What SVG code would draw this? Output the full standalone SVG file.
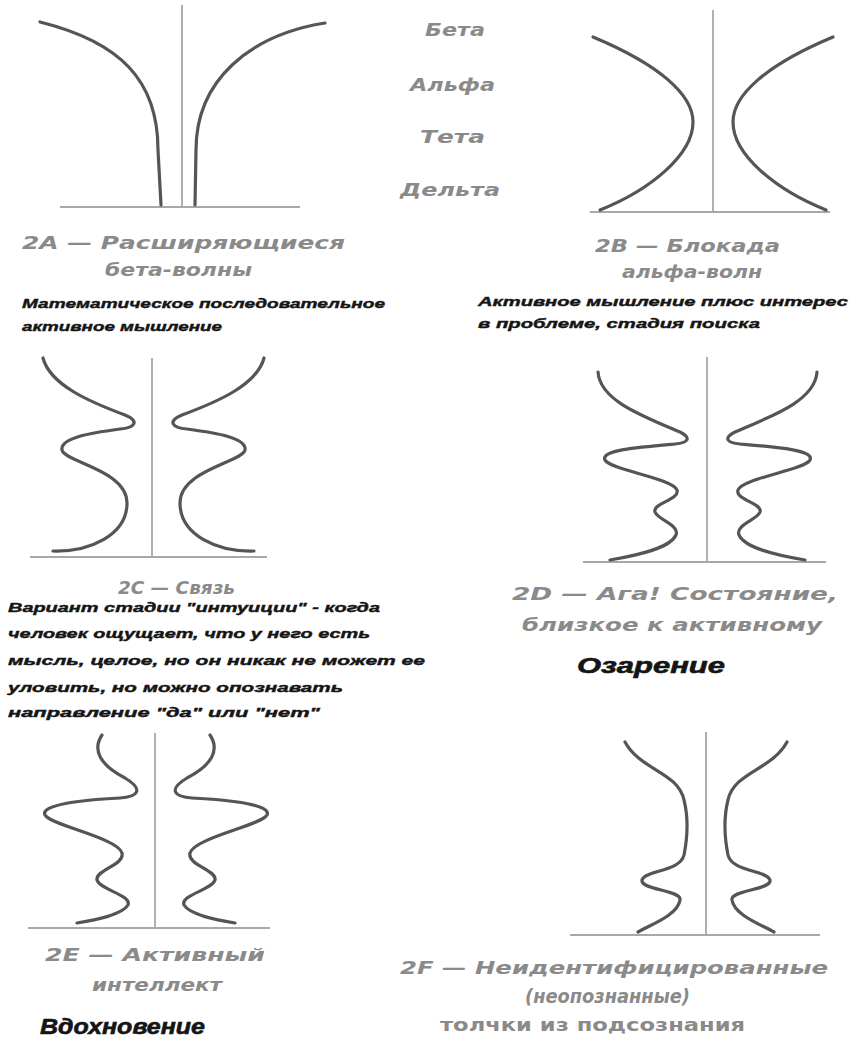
<svg xmlns="http://www.w3.org/2000/svg" xmlns:xlink="http://www.w3.org/1999/xlink" width="852" height="1043" viewBox="0 0 852 1043">
<style>
.ax{stroke:#a8a8a8;stroke-width:1.8;fill:none}
.cv{stroke:#555;stroke-width:3.2;fill:none;stroke-linecap:round;stroke-linejoin:round}
.lb{font-family:"DejaVu Sans",sans-serif;font-style:italic;font-weight:bold;font-size:17px;fill:#8a8a8a}
.lb2{font-size:20px}
.up{font-family:"DejaVu Sans",sans-serif;font-weight:bold;font-size:17px;fill:#8a8a8a}
.bd{font-family:"Liberation Sans",sans-serif;font-style:italic;font-weight:bold;font-size:13px;fill:#151515;stroke:#151515;stroke-width:0.4}
.hd{font-family:"Liberation Sans",sans-serif;font-style:italic;font-weight:bold;font-size:22px;fill:#151515;stroke:#151515;stroke-width:0.6}
</style>
<defs>
<path id="c2B" d="M593,37 C660,65 693,95 693,122 C693,155 650,190 600,210"/>
<path id="c2C" d="M43,358 C50,385 90,402 125,415 C140,421 135,428 120,429 C90,433 60,438 62,450 C64,462 127,470 127,503 C127,535 90,552 53,551"/>
<path id="c2D" d="M598,372 C600,400 640,415 680,432 C692,438 688,443 675,444 C640,447 600,450 605,460 C610,470 672,478 677,490 C680,500 652,503 655,512 C658,520 680,525 676,535 C670,548 640,555 610,560"/>
<path id="c2E" d="M102,735 C92,750 100,765 125,778 C145,790 137,797 120,798 C80,800 40,805 45,815 C50,825 118,838 122,853 C125,865 95,870 97,880 C100,890 132,895 128,905 C122,915 95,920 77,923"/>
<path id="c2F" d="M625,742 C640,770 678,772 684,800 C689,820 687,840 684,855 C680,872 645,870 642,880 C640,890 682,890 680,900 C678,915 650,925 638,932"/>
</defs>

<g id="scale">
<text class="lb" x="425" y="36" textLength="60" lengthAdjust="spacingAndGlyphs">Бета</text>
<text class="lb" x="410" y="91" textLength="85" lengthAdjust="spacingAndGlyphs">Альфа</text>
<text class="lb" x="420" y="143" textLength="65" lengthAdjust="spacingAndGlyphs">Тета</text>
<text class="lb" x="400" y="196" textLength="100" lengthAdjust="spacingAndGlyphs">Дельта</text>
</g>

<g id="fig2A">
<line class="ax" x1="182" y1="5" x2="182" y2="207"/>
<line class="ax" x1="60" y1="207" x2="300" y2="207"/>
<path class="cv" d="M40,22 C120,42 158,80 158,150 L161,205"/>
<path class="cv" d="M325,23 C250,35 196,80 196,150 L195,205"/>
<text class="lb" x="22" y="249" textLength="323" lengthAdjust="spacingAndGlyphs">2A — Расширяющиеся</text>
<text class="lb" x="105" y="276" textLength="147" lengthAdjust="spacingAndGlyphs">бета-волны</text>
<text class="bd" x="22" y="308" textLength="363" lengthAdjust="spacingAndGlyphs">Математическое последовательное</text>
<text class="bd" x="22" y="331" textLength="200" lengthAdjust="spacingAndGlyphs">активное мышление</text>
</g>

<g id="fig2B">
<line class="ax" x1="713" y1="10" x2="713" y2="212"/>
<line class="ax" x1="590" y1="212" x2="830" y2="212"/>
<use xlink:href="#c2B" class="cv"/>
<use xlink:href="#c2B" class="cv" transform="translate(1426,0) scale(-1,1)"/>
<text class="lb" x="595" y="252" textLength="185" lengthAdjust="spacingAndGlyphs">2B — Блокада</text>
<text class="lb" x="622" y="278" textLength="140" lengthAdjust="spacingAndGlyphs">альфа-волн</text>
<text class="bd" x="478" y="306" textLength="370" lengthAdjust="spacingAndGlyphs">Активное мышление плюс интерес</text>
<text class="bd" x="478" y="328" textLength="282" lengthAdjust="spacingAndGlyphs">в проблеме, стадия поиска</text>
</g>

<g id="fig2C">
<line class="ax" x1="152" y1="358" x2="152" y2="557"/>
<line class="ax" x1="30" y1="557" x2="267" y2="557"/>
<use xlink:href="#c2C" class="cv"/>
<use xlink:href="#c2C" class="cv" transform="translate(307,0) scale(-1,1)"/>
<text class="lb" x="118" y="594" textLength="117" lengthAdjust="spacingAndGlyphs">2C — Связь</text>
<text class="bd" x="8" y="612" textLength="372" lengthAdjust="spacingAndGlyphs">Вариант стадии "интуиции" - когда</text>
<text class="bd" x="8" y="638" textLength="362" lengthAdjust="spacingAndGlyphs">человек ощущает, что у него есть</text>
<text class="bd" x="8" y="665" textLength="417" lengthAdjust="spacingAndGlyphs">мысль, целое, но он никак не может ее</text>
<text class="bd" x="8" y="692" textLength="335" lengthAdjust="spacingAndGlyphs">уловить, но можно опознавать</text>
<text class="bd" x="8" y="717" textLength="312" lengthAdjust="spacingAndGlyphs">направление "да" или "нет"</text>
</g>

<g id="fig2D">
<line class="ax" x1="707" y1="357" x2="707" y2="562"/>
<line class="ax" x1="583" y1="562" x2="826" y2="562"/>
<use xlink:href="#c2D" class="cv"/>
<use xlink:href="#c2D" class="cv" transform="translate(1415,0) scale(-1,1)"/>
<text class="lb" x="512" y="600" textLength="326" lengthAdjust="spacingAndGlyphs">2D — Ага! Состояние,</text>
<text class="lb" x="522" y="631" textLength="300" lengthAdjust="spacingAndGlyphs">близкое к активному</text>
<text class="hd" x="577" y="673" textLength="148" lengthAdjust="spacingAndGlyphs">Озарение</text>
</g>

<g id="fig2E">
<line class="ax" x1="155" y1="733" x2="155" y2="928"/>
<line class="ax" x1="28" y1="928" x2="270" y2="928"/>
<use xlink:href="#c2E" class="cv"/>
<use xlink:href="#c2E" class="cv" transform="translate(312,0) scale(-1,1)"/>
<text class="lb" x="45" y="961" textLength="220" lengthAdjust="spacingAndGlyphs">2E — Активный</text>
<text class="lb" x="92" y="991" textLength="130" lengthAdjust="spacingAndGlyphs">интеллект</text>
<text class="hd" x="40" y="1034" textLength="165" lengthAdjust="spacingAndGlyphs">Вдохновение</text>
</g>

<g id="fig2F">
<line class="ax" x1="706" y1="732" x2="706" y2="935"/>
<line class="ax" x1="570" y1="935" x2="820" y2="935"/>
<use xlink:href="#c2F" class="cv"/>
<use xlink:href="#c2F" class="cv" transform="translate(1412,0) scale(-1,1)"/>
<text class="lb" x="400" y="974" textLength="428" lengthAdjust="spacingAndGlyphs">2F — Неидентифицированные</text>
<text class="lb lb2" x="525" y="1003" textLength="165" lengthAdjust="spacingAndGlyphs">(неопознанные)</text>
<text class="up" x="440" y="1031" textLength="305" lengthAdjust="spacingAndGlyphs">толчки из подсознания</text>
</g>
</svg>
